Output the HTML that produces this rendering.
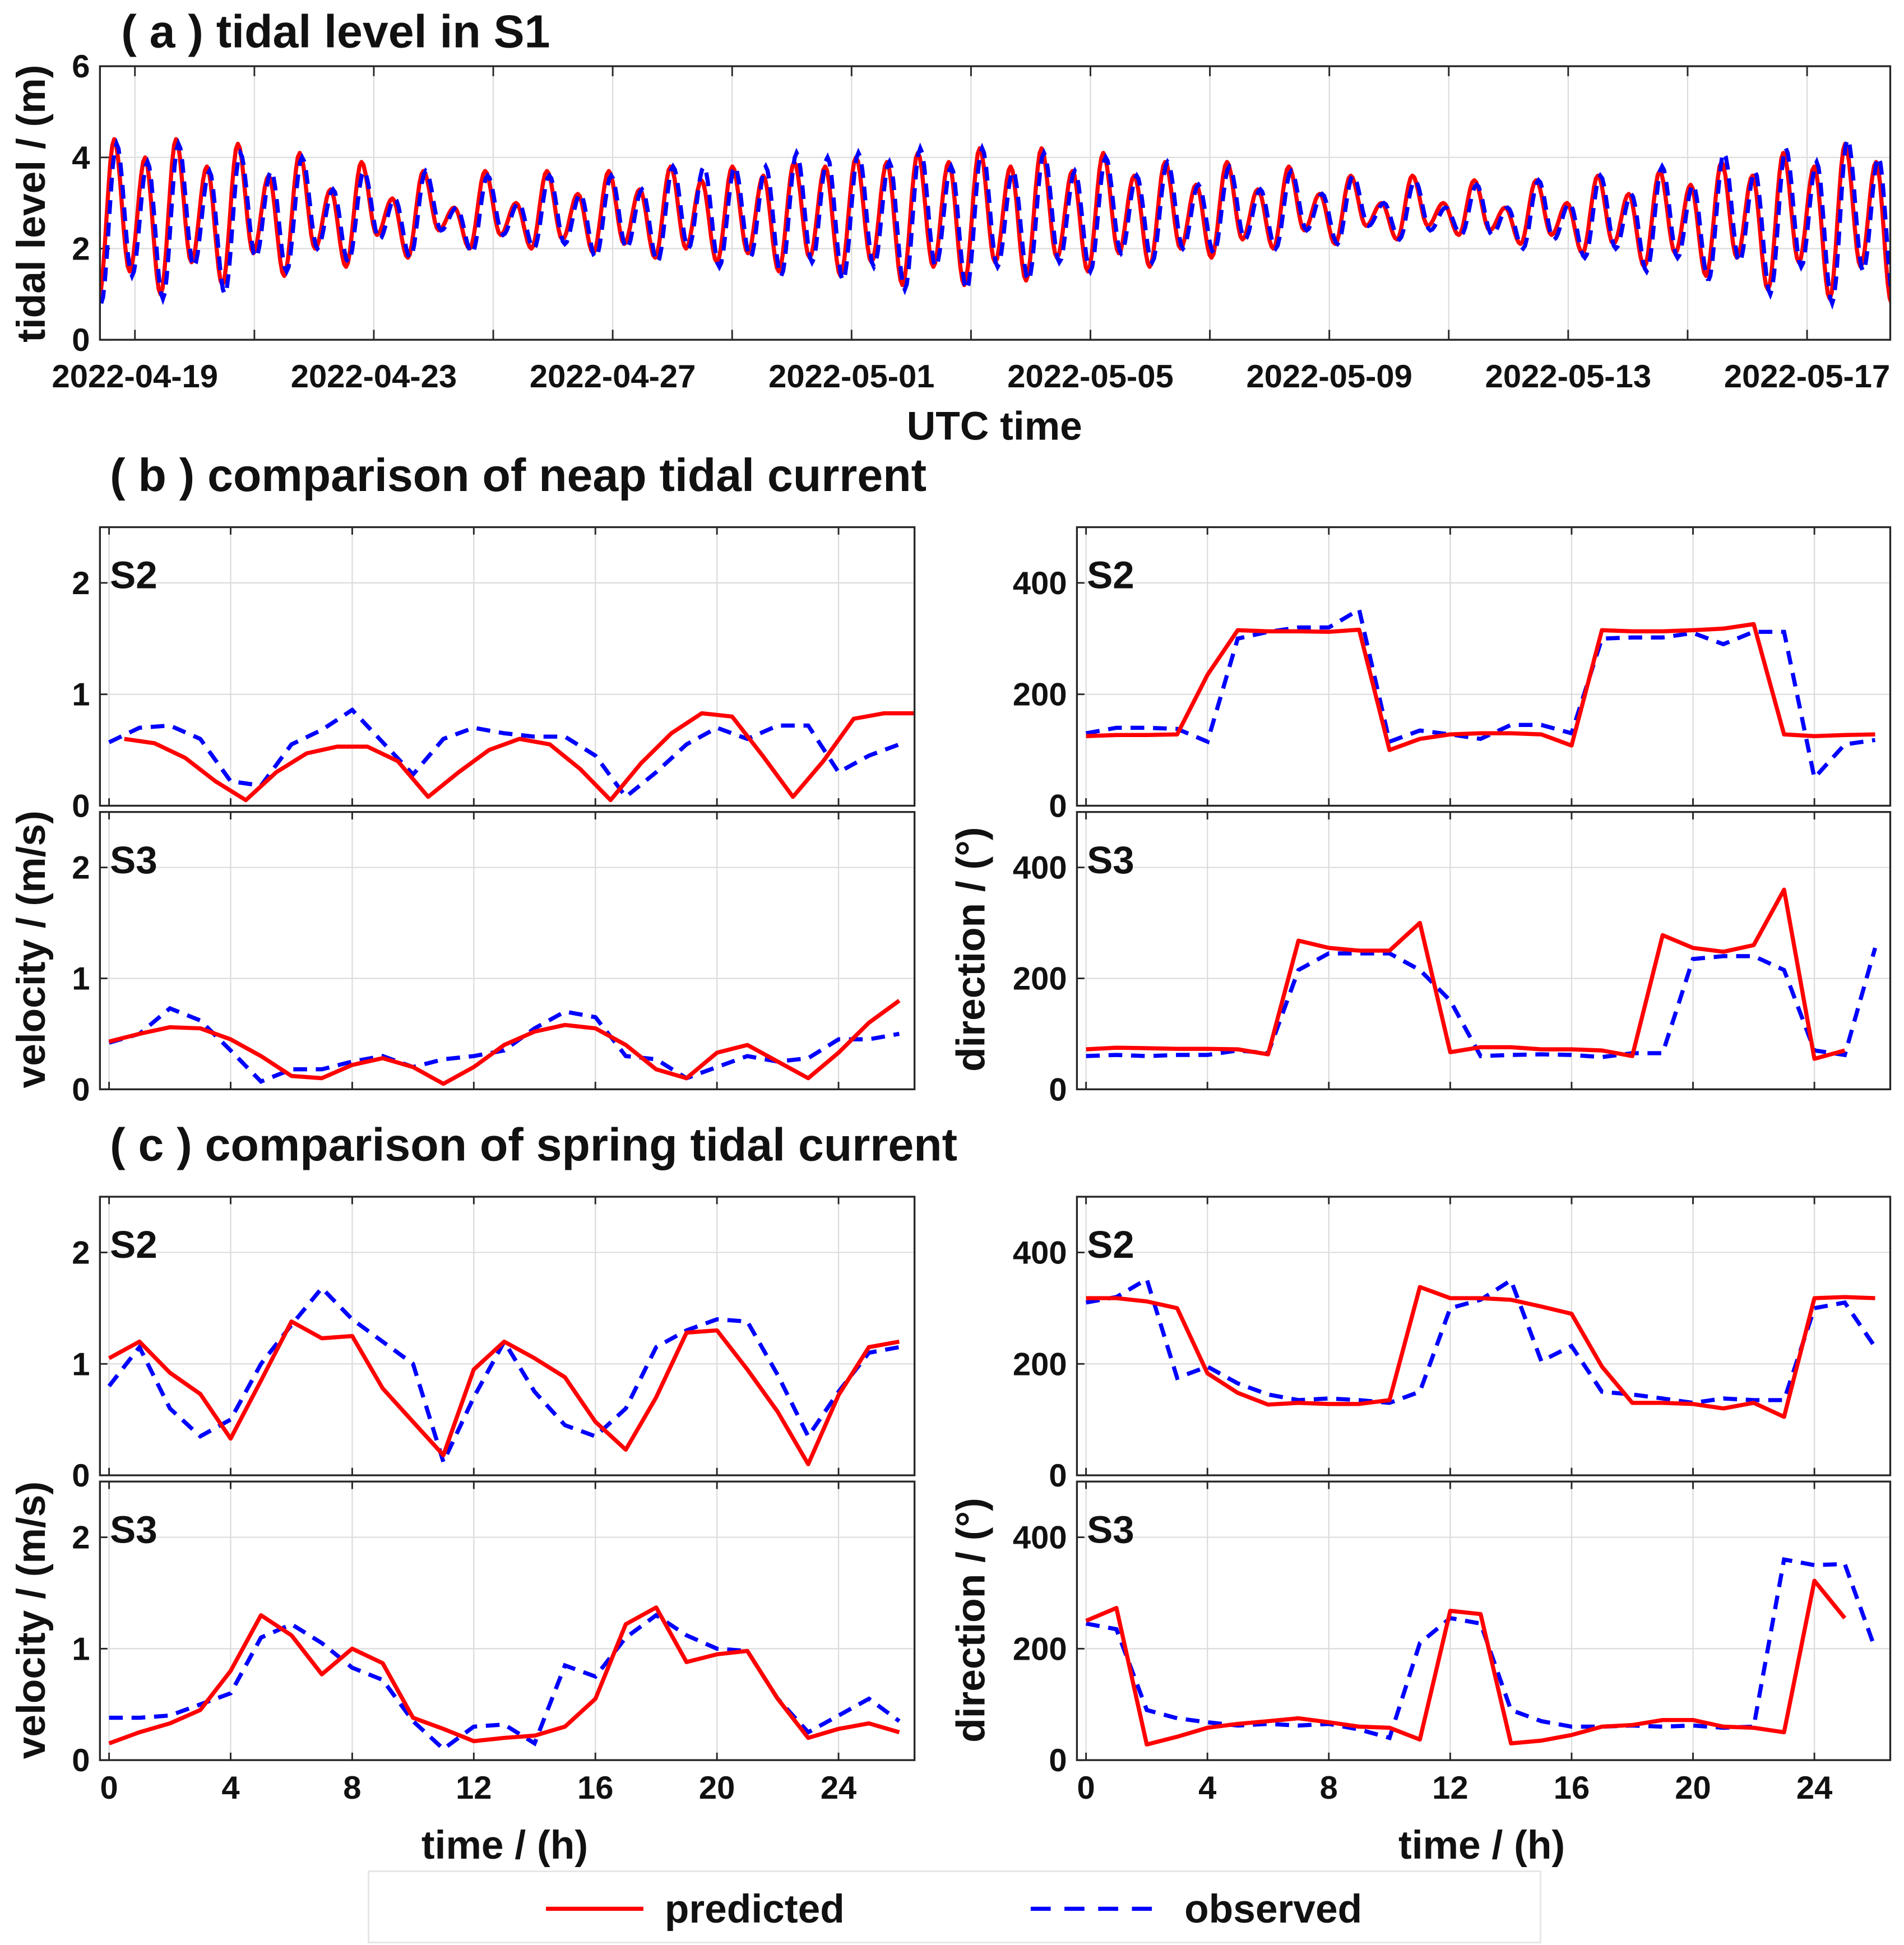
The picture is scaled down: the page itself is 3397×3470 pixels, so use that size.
<!DOCTYPE html>
<html><head><meta charset="utf-8"><style>
html,body{margin:0;padding:0;background:#fff}
svg{display:block}
text{font-family:"Liberation Sans",sans-serif;font-weight:bold;fill:#111}
</style></head><body>
<svg id="fig" xmlns="http://www.w3.org/2000/svg" width="3397" height="3470" viewBox="0 0 1524 1557" preserveAspectRatio="none">
<rect x="0" y="0" width="1524" height="1557" fill="#fff"/>
</svg>
<script>
// ---------- panel (a) data: alternating low/high extrema (m), 4 per day ----------
const tideStartLabel = "2022-04-18 10:00";
const predLows  = [0.9,1.5,1.0,1.7,1.2,1.9,1.4,2.0,1.6,2.3,1.8,2.4,2.0,2.3,2.0,2.2,1.9,2.1,1.8,2.0,1.7,1.9,1.5,1.8,1.4,1.7,1.2,1.6,1.2,1.7,1.3,1.8,1.5,1.9,1.6,2.0,1.8,2.2,2.0,2.4,2.1,2.5,2.2,2.5,2.3,2.4,2.1,2.3,1.9,2.1,1.6,1.9,1.4,1.8,1.1,1.7,0.9,1.6,0.8,1.6];
const predHighs = [4.4,4.0,4.4,3.8,4.3,3.6,4.1,3.3,3.9,3.1,3.7,2.9,3.7,3.0,3.7,3.2,3.7,3.3,3.8,3.5,3.8,3.6,3.9,3.8,4.0,3.9,4.1,3.9,4.2,3.8,4.2,3.7,4.1,3.6,3.9,3.4,3.9,3.3,3.8,3.2,3.6,3.0,3.6,3.0,3.5,2.9,3.5,3.0,3.6,3.2,3.7,3.4,3.9,3.6,4.1,3.8,4.3,3.9,4.5,3.8];
const obsLows   = [0.8,1.4,0.9,1.6,1.0,1.8,1.5,2.0,1.7,2.2,1.8,2.4,1.9,2.3,2.0,2.1,1.8,2.0,1.7,2.0,1.6,1.8,1.4,1.7,1.3,1.6,1.1,1.6,1.1,1.6,1.3,1.7,1.5,1.9,1.7,2.0,1.9,2.2,2.0,2.4,2.1,2.5,2.2,2.4,2.3,2.3,2.0,2.2,1.8,2.0,1.5,1.8,1.3,1.7,1.0,1.6,0.8,1.5,0.8,1.5];
const obsHighs  = [4.3,3.9,4.3,3.7,4.1,3.7,4.0,3.3,3.7,3.1,3.7,2.9,3.6,3.0,3.6,3.2,3.6,3.3,3.8,3.8,3.8,3.8,4.1,4.0,4.1,3.9,4.2,3.8,4.2,3.7,4.1,3.7,4.0,3.6,3.9,3.4,3.8,3.3,3.7,3.2,3.6,3.0,3.5,2.9,3.4,2.9,3.5,3.0,3.6,3.2,3.8,3.4,4.1,3.7,4.2,3.9,4.4,4.0,4.4,3.7];
const dateTicks = ["2022-04-19","2022-04-23","2022-04-27","2022-05-01","2022-05-05","2022-05-09","2022-05-13","2022-05-17"];
const tideYTicks = [0,2,4,6];

// ---------- panels (b) and (c): hourly values ----------
const hourTicks = [0,4,8,12,16,20,24];
const velTicks = [0,1,2];
const dirTicks = [0,200,400];
const bS2VelPred = [0.6,0.56,0.43,0.22,0.05,0.3,0.47,0.53,0.53,0.4,0.08,0.3,0.5,0.6,0.55,0.33,0.05,0.38,0.65,0.83,0.8,0.45,0.08,0.4,0.78,0.83,0.83];
const bS2VelObs  = [0.57,0.7,0.72,0.6,0.22,0.18,0.55,0.68,0.86,0.57,0.28,0.6,0.7,0.65,0.62,0.62,0.45,0.08,0.3,0.55,0.7,0.6,0.72,0.72,0.3,0.45,0.55];
const bS3VelPred = [0.43,0.5,0.56,0.55,0.45,0.3,0.12,0.1,0.22,0.28,0.2,0.05,0.2,0.4,0.52,0.58,0.55,0.4,0.18,0.1,0.33,0.4,0.25,0.1,0.33,0.6,0.8];
const bS3VelObs  = [0.42,0.5,0.73,0.62,0.35,0.07,0.18,0.18,0.25,0.3,0.2,0.27,0.3,0.35,0.55,0.7,0.65,0.3,0.27,0.1,0.2,0.3,0.25,0.28,0.45,0.45,0.5];
const bS2DirPred = [125,127,127,128,235,315,313,313,312,316,100,120,128,130,130,128,108,315,313,313,315,318,326,128,125,127,128];
const bS2DirObs  = [130,140,140,138,115,300,312,320,320,352,115,135,128,120,145,145,130,300,302,302,310,290,312,312,50,110,118];
const bS3DirPred = [72,75,74,73,73,72,63,268,255,250,250,300,67,76,76,72,72,70,60,278,255,248,260,360,55,70];
const bS3DirObs  = [60,62,60,62,62,70,65,215,245,245,245,215,160,60,62,63,62,58,65,65,235,240,240,215,70,62,255];
const cS2VelPred = [1.05,1.2,0.92,0.73,0.33,0.85,1.38,1.23,1.25,0.78,0.48,0.18,0.95,1.2,1.05,0.88,0.48,0.23,0.7,1.28,1.3,0.95,0.57,0.1,0.72,1.15,1.2];
const cS2VelObs  = [0.8,1.15,0.6,0.35,0.5,1.0,1.35,1.68,1.4,1.2,1.0,0.12,0.7,1.2,0.75,0.45,0.35,0.6,1.15,1.3,1.4,1.38,0.9,0.35,0.75,1.1,1.15];
const cS3VelPred = [0.15,0.25,0.33,0.45,0.8,1.3,1.12,0.77,1.0,0.87,0.38,0.28,0.17,0.2,0.22,0.3,0.55,1.22,1.37,0.88,0.95,0.98,0.55,0.2,0.28,0.33,0.25];
const cS3VelObs  = [0.38,0.38,0.4,0.5,0.6,1.1,1.22,1.05,0.83,0.72,0.35,0.1,0.3,0.32,0.15,0.85,0.75,1.1,1.3,1.12,1.0,0.98,0.55,0.25,0.4,0.55,0.35];
const cS2DirPred = [318,318,312,300,183,148,127,130,128,128,135,338,318,318,315,303,290,195,130,130,128,120,130,105,318,320,318];
const cS2DirObs  = [310,320,352,175,195,165,145,135,138,135,130,150,300,315,350,205,232,150,145,138,130,138,135,135,300,310,230];
const cS3DirPred = [250,273,28,42,58,65,70,75,68,60,58,37,268,262,30,35,45,60,63,72,72,60,58,50,322,255];
const cS3DirObs  = [245,235,90,75,68,62,65,62,65,55,40,210,255,245,90,70,60,60,62,60,62,58,60,360,350,352,200];

const NS = "http://www.w3.org/2000/svg";
const svg = document.getElementById('fig');
function mk(tag, attrs, parent) {
  const e = document.createElementNS(NS, tag);
  for (const k in attrs) e.setAttribute(k, attrs[k]);
  (parent || svg).appendChild(e);
  return e;
}
function txt(s, x, y, size, anchor, parent) {
  const t = mk('text', {x: x, y: y, 'font-size': size, 'text-anchor': anchor || 'start'}, parent);
  t.textContent = s;
  return t;
}
const TICK = 26, AX = 32, TITLE = 37;

// Titles
let t1 = txt('( a ) tidal level in S1', 97, 38, TITLE);


let t2 = txt('( b ) comparison of neap tidal current', 88, 393, TITLE);


let t3 = txt('( c ) comparison of spring tidal current', 88, 929, TITLE);



// ---------- Panel (a) ----------
(function () {
  const X0 = 80, X1 = 1513, Y0 = 272, Y1 = 53;
  const pxDay = 47.8;
  const day0 = 0.586;
  const ys = v => Y0 - (v / 6) * (Y0 - Y1);
  const xs = d => X0 + d * pxDay;
  const g = mk('g', {});
  
  
  for (let k = -1; k < 16; k++) {
    const x = xs(day0 + 2 * k);
    if (x <= X0 || x >= X1) continue;
    const l = mk('line', {x1: x, x2: x, y1: Y1, y2: Y0, stroke: '#dcdcdc', 'stroke-width': 1}, g);
    
    
    mk('line', {x1: x, x2: x, y1: Y0, y2: Y0 - 8, stroke: '#262626', 'stroke-width': 1.3}, g);
    mk('line', {x1: x, x2: x, y1: Y1, y2: Y1 + 8, stroke: '#262626', 'stroke-width': 1.3}, g);
  }
  tideYTicks.forEach(v => {
    const y = ys(v);
    if (v > 0 && v < 6) mk('line', {x1: X0, x2: X1, y1: y, y2: y, stroke: '#dcdcdc', 'stroke-width': 1}, g);
    mk('line', {x1: X0, x2: X0 + 8, y1: y, y2: y, stroke: '#262626', 'stroke-width': 1.3}, g);
    const t = txt(String(v), X0 - 8, y + 9, TICK, 'end', g);
    
    
  });
  dateTicks.forEach((s, i) => {
    const t = txt(s, xs(day0 + 4 * i), 310, TICK, 'middle', g);
    
    
  });
  const xl = txt('UTC time', 796, 352, AX, 'middle', g);
  
  
  const yl = txt('tidal level / (m)', 0, 0, AX, 'middle', g);
  yl.setAttribute('transform', 'translate(36,163) rotate(-90)');
  
  

  const clip = mk('clipPath', {id: 'clipA'}, g);
  mk('rect', {x: X0, y: Y1, width: X1 - X0, height: Y0 - Y1}, clip);

  function series(lows, highs, lag) {
    const ext = [];
    for (let i = 0; i < lows.length; i++) { ext.push(lows[i]); ext.push(highs[i]); }
    const step = 0.2588;
    let d = '';
    for (let i = 0; i < ext.length - 1; i++) {
      for (let s = 0; s <= 8; s++) {
        const f = s / 8;
        const v = ext[i] + (ext[i + 1] - ext[i]) * (1 - Math.cos(Math.PI * f)) / 2;
        const x = xs((i + f) * step + lag);
        d += (d ? 'L' : 'M') + x.toFixed(1) + ' ' + ys(v).toFixed(1);
      }
    }
    return d;
  }
  const pp = mk('path', {d: series(predLows, predHighs, -0.02), fill: 'none', stroke: '#ff0000', 'stroke-width': 3.3, 'clip-path': 'url(#clipA)', 'stroke-linejoin': 'round'}, g);
  
  
  const po = mk('path', {d: series(obsLows, obsHighs, 0.02), fill: 'none', stroke: '#0000ff', 'stroke-width': 3.3, 'stroke-dasharray': '11 7', 'clip-path': 'url(#clipA)'}, g);
  
  
  const fr = mk('rect', {x: X0, y: Y1, width: X1 - X0, height: Y0 - Y1, fill: 'none', stroke: '#262626', 'stroke-width': 1.5}, g);
  
  
})();

// ---------- small panels ----------
const TMIN = -0.3, TMAX = 26.5;
function panel(opts) {
  const {x0, x1, yTop, yBot, vmax, ticks, pred, obs, predOff, label, name, xlabels} = opts;
  const g = mk('g', {});
  
  
  const xs = t => x0 + (t - TMIN) / (TMAX - TMIN) * (x1 - x0);
  const ys = v => yBot - v / vmax * (yBot - yTop);
  hourTicks.forEach(h => {
    const x = xs(h);
    mk('line', {x1: x, x2: x, y1: yTop, y2: yBot, stroke: '#dcdcdc', 'stroke-width': 1}, g);
    mk('line', {x1: x, x2: x, y1: yBot, y2: yBot - 6, stroke: '#262626', 'stroke-width': 1.3}, g);
    mk('line', {x1: x, x2: x, y1: yTop, y2: yTop + 6, stroke: '#262626', 'stroke-width': 1.3}, g);
    if (xlabels) {
      const t = txt(String(h), x, yBot + 31, TICK, 'middle', g);
      
      
    }
  });
  ticks.forEach(v => {
    const y = ys(v);
    if (v > 0) mk('line', {x1: x0, x2: x1, y1: y, y2: y, stroke: '#dcdcdc', 'stroke-width': 1}, g);
    mk('line', {x1: x0, x2: x0 + 6, y1: y, y2: y, stroke: '#262626', 'stroke-width': 1.3}, g);
    const t = txt(String(v), x0 - 8, y + 9, TICK, 'end', g);
    
    
  });
  const lab = txt(label, x0 + 8, yTop + 49, 31, 'start', g);
  
  
  function pathOf(arr, off) {
    return arr.map((v, i) => (i ? 'L' : 'M') + xs(i + off).toFixed(1) + ' ' + ys(v).toFixed(1)).join('');
  }
  const po = mk('path', {d: pathOf(obs, 0), fill: 'none', stroke: '#0000ff', 'stroke-width': 3.3, 'stroke-dasharray': '11 7'}, g);
  
  
  const pp = mk('path', {d: pathOf(pred, predOff || 0), fill: 'none', stroke: '#ff0000', 'stroke-width': 3.3, 'stroke-linejoin': 'round'}, g);
  
  
  mk('rect', {x: x0, y: yTop, width: x1 - x0, height: yBot - yTop, fill: 'none', stroke: '#262626', 'stroke-width': 1.5}, g);
}
const L = [80, 732], R = [862, 1513];
const rows = {bTop: [422, 645], bBot: [650, 872], cTop: [958, 1181], cBot: [1186, 1409]};
panel({x0: L[0], x1: L[1], yTop: rows.bTop[0], yBot: rows.bTop[1], vmax: 2.5, ticks: velTicks, pred: bS2VelPred, obs: bS2VelObs, predOff: 0.5, label: 'S2', name: 'neap-s2-velocity-chart'});
panel({x0: L[0], x1: L[1], yTop: rows.bBot[0], yBot: rows.bBot[1], vmax: 2.5, ticks: velTicks, pred: bS3VelPred, obs: bS3VelObs, label: 'S3', name: 'neap-s3-velocity-chart'});
panel({x0: R[0], x1: R[1], yTop: rows.bTop[0], yBot: rows.bTop[1], vmax: 500, ticks: dirTicks, pred: bS2DirPred, obs: bS2DirObs, label: 'S2', name: 'neap-s2-direction-chart'});
panel({x0: R[0], x1: R[1], yTop: rows.bBot[0], yBot: rows.bBot[1], vmax: 500, ticks: dirTicks, pred: bS3DirPred, obs: bS3DirObs, label: 'S3', name: 'neap-s3-direction-chart'});
panel({x0: L[0], x1: L[1], yTop: rows.cTop[0], yBot: rows.cTop[1], vmax: 2.5, ticks: velTicks, pred: cS2VelPred, obs: cS2VelObs, label: 'S2', name: 'spring-s2-velocity-chart'});
panel({x0: L[0], x1: L[1], yTop: rows.cBot[0], yBot: rows.cBot[1], vmax: 2.5, ticks: velTicks, pred: cS3VelPred, obs: cS3VelObs, label: 'S3', name: 'spring-s3-velocity-chart', xlabels: true});
panel({x0: R[0], x1: R[1], yTop: rows.cTop[0], yBot: rows.cTop[1], vmax: 500, ticks: dirTicks, pred: cS2DirPred, obs: cS2DirObs, label: 'S2', name: 'spring-s2-direction-chart'});
panel({x0: R[0], x1: R[1], yTop: rows.cBot[0], yBot: rows.cBot[1], vmax: 500, ticks: dirTicks, pred: cS3DirPred, obs: cS3DirObs, label: 'S3', name: 'spring-s3-direction-chart', xlabels: true});

[['velocity / (m/s)', 36, 760, 'neap-velocity-axis-title'], ['direction / (°)', 788, 760, 'neap-direction-axis-title'],
 ['velocity / (m/s)', 36, 1297, 'spring-velocity-axis-title'], ['direction / (°)', 788, 1297, 'spring-direction-axis-title']].forEach(a => {
  const t = txt(a[0], 0, 0, AX, 'middle');
  t.setAttribute('transform', 'translate(' + a[1] + ',' + a[2] + ') rotate(-90)');
  
  
});
[[404, 'left-x-axis-title'], [1186, 'right-x-axis-title']].forEach(a => {
  const t = txt('time / (h)', a[0], 1488, AX, 'middle');
  
  
});

const lg = mk('g', {});


mk('rect', {x: 295, y: 1498, width: 938, height: 57, fill: '#fff', stroke: '#e6e6e6', 'stroke-width': 1.3}, lg);
const le1 = mk('line', {x1: 437, x2: 515, y1: 1528, y2: 1528, stroke: '#ff0000', 'stroke-width': 3.3}, lg);


const lt1 = txt('predicted', 532, 1539, AX, 'start', lg);


const le2 = mk('line', {x1: 825, x2: 930, y1: 1528, y2: 1528, stroke: '#0000ff', 'stroke-width': 3.3, 'stroke-dasharray': '16 11'}, lg);


const lt2 = txt('observed', 948, 1539, AX, 'start', lg);


</script>
</body></html>
